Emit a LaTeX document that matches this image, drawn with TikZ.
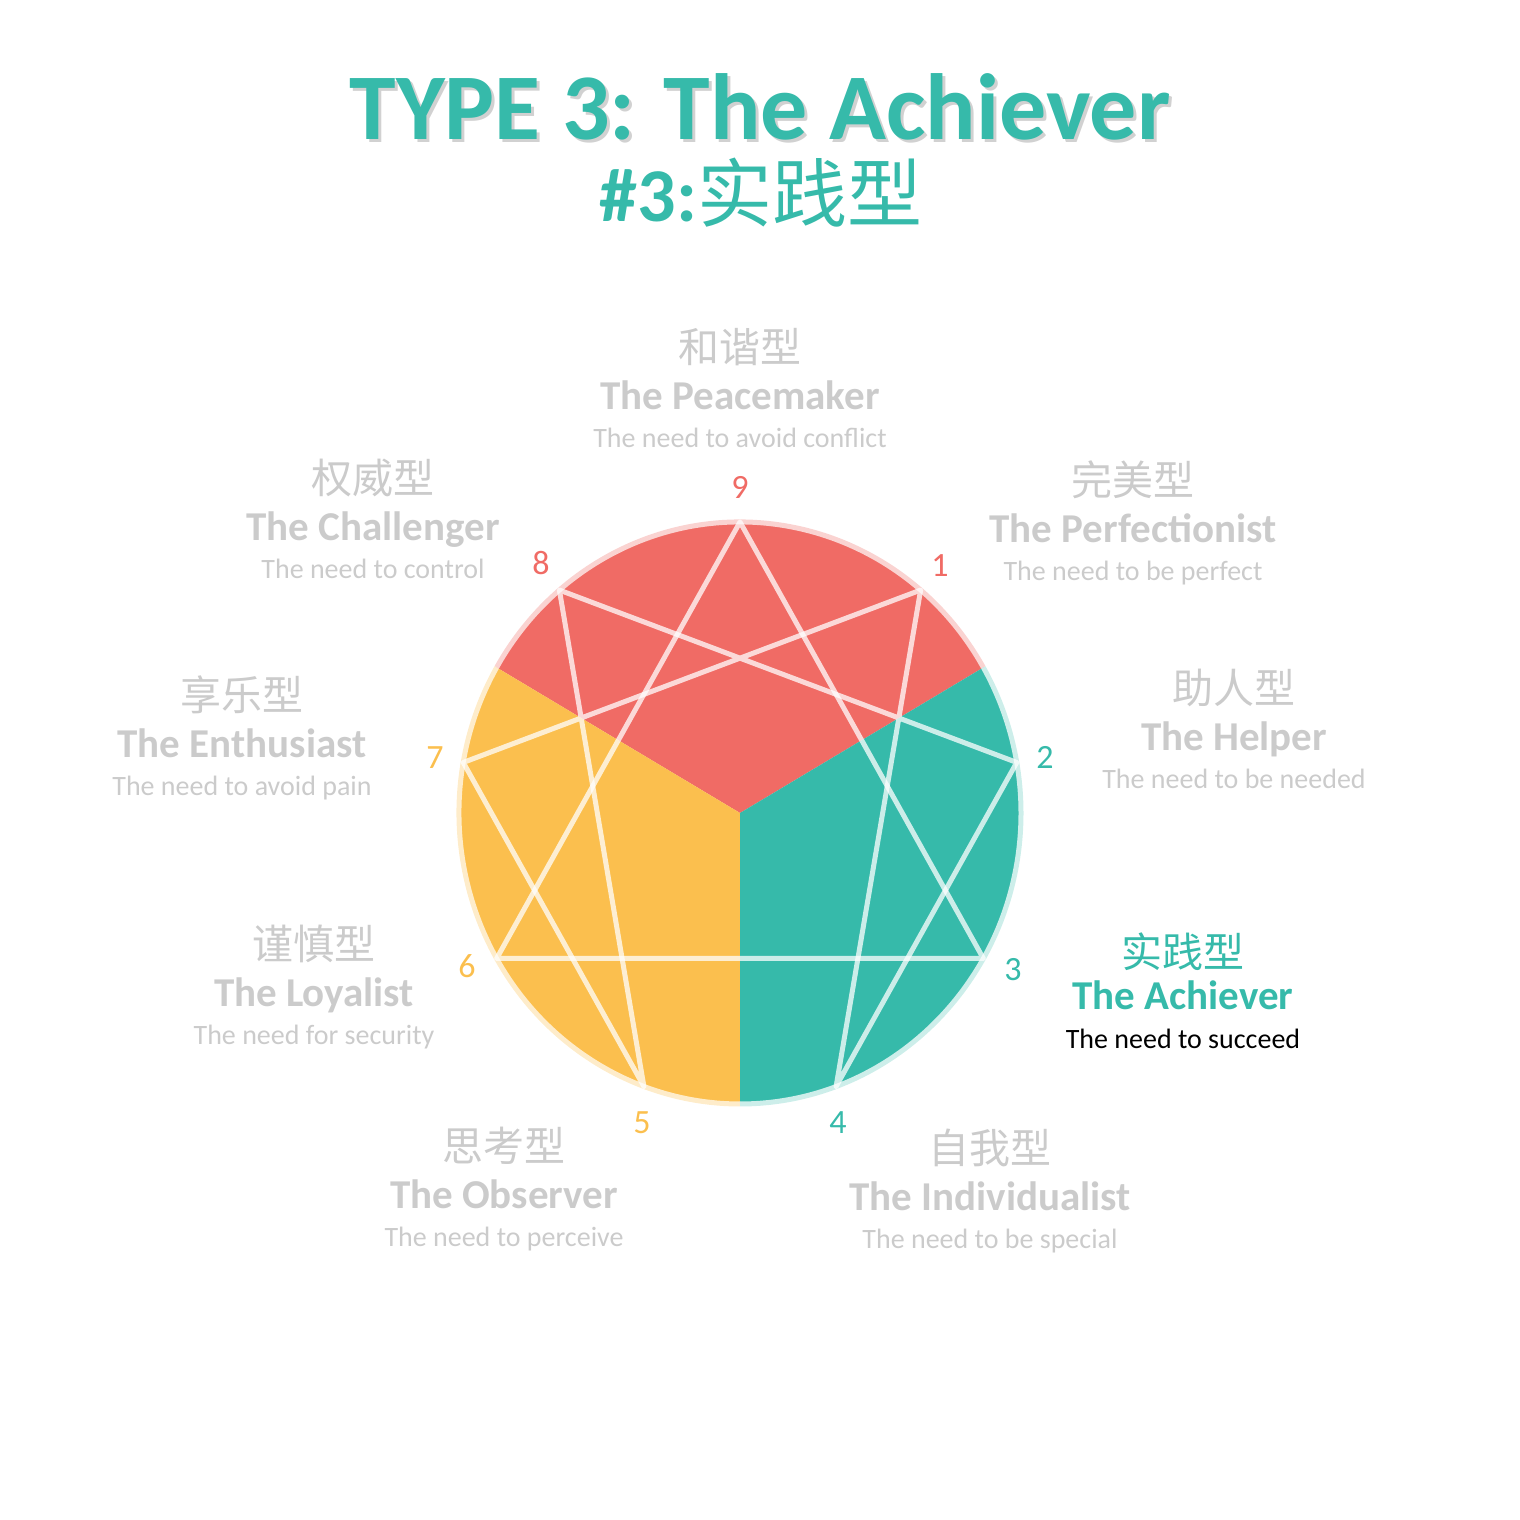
\documentclass[tikz,border=0pt]{standalone}
\usepackage{fontspec}
\setmainfont{Carlito}
\newfontfamily\cjk{Noto Sans CJK SC}
\definecolor{achteal}{HTML}{36BAAA}
\definecolor{achred}{HTML}{F06B65}
\definecolor{achyellow}{HTML}{FBBF4E}
\definecolor{labelgray}{HTML}{CBCBCB}

\begin{document}
\begin{tikzpicture}[
  x=1pt, y=1pt,
  cname/.style={font=\cjk\fontsize{41}{41}\selectfont, text=labelgray, anchor=base, inner sep=0pt},
  ename/.style={font=\bfseries\fontsize{41}{41}\selectfont, text=labelgray, anchor=base, inner sep=0pt},
  dname/.style={font=\fontsize{28}{28}\selectfont, text=labelgray, anchor=base, inner sep=0pt},
  num/.style={font=\fontsize{34}{34}\selectfont, inner sep=0pt},
  ennealine/.style={draw=white, draw opacity=0.75, line width=5pt, line join=round, line cap=round},
  rim/.style={line width=5pt},
]
  \useasboundingbox (0,0) rectangle (1520,1520);

  % title
  \node[font=\bfseries\fontsize{94}{94}\selectfont, text=black, opacity=0.18, anchor=base, inner sep=0pt] at (763,1377) {TYPE 3: The Achiever};
  \node[font=\bfseries\fontsize{94}{94}\selectfont, text=achteal, anchor=base, inner sep=0pt] (title) at (760,1380) {TYPE 3: The Achiever};
  \node[font=\bfseries\fontsize{76}{76}\selectfont, text=achteal, anchor=base, inner sep=0pt] (subtitle) at (761,1298) {\#3:{\cjk\mdseries\fontsize{75}{75}\selectfont 实践型}};

  % circle and sectors
  \begin{scope}[shift={(740,707)}]
    \coordinate (ctr) at (0,0);
    \foreach \k in {1,...,9}
      \coordinate (p\k) at ({90-40*\k}:281pt and 291pt);
    \fill[achred] (ctr) -- (30:281pt and 291pt) arc[start angle=30, end angle=150, x radius=281pt, y radius=291pt] -- cycle;
    \fill[achyellow] (ctr) -- (150:281pt and 291pt) arc[start angle=150, end angle=270, x radius=281pt, y radius=291pt] -- cycle;
    \fill[achteal] (ctr) -- (270:281pt and 291pt) arc[start angle=270, end angle=390, x radius=281pt, y radius=291pt] -- cycle;
    \draw[rim, achred!30] (30:281pt and 291pt) arc[start angle=30, end angle=150, x radius=281pt, y radius=291pt];
    \draw[rim, achyellow!30] (150:281pt and 291pt) arc[start angle=150, end angle=270, x radius=281pt, y radius=291pt];
    \draw[rim, achteal!25] (270:281pt and 291pt) arc[start angle=270, end angle=390, x radius=281pt, y radius=291pt];
  \end{scope}

  \draw[ennealine] (p9) -- (p3) -- (p6) -- cycle;
  \draw[ennealine] (p1) -- (p4) -- (p2) -- (p8) -- (p5) -- (p7) -- cycle;

  % point numbers
  \foreach \k/\x/\y/\c in {9/740/1033/achred, 1/940/954/achred, 2/1045/763/achteal,
      3/1013/550/achteal, 4/838/397/achteal, 5/642/397/achyellow,
      6/467/554/achyellow, 7/435/762/achyellow, 8/541/957/achred}
    \node[num, text=\c] (n\k) at (\x,\y) {\k};

  % type labels
  \foreach \k/\x/\E/\cn/\en/\ds in {
      9/740/1123/和谐型/The Peacemaker/The need to avoid conflict,
      8/373/992/权威型/The Challenger/The need to control,
      1/1133/990/完美型/The Perfectionist/The need to be perfect,
      7/242/775/享乐型/The Enthusiast/The need to avoid pain,
      2/1234/782/助人型/The Helper/The need to be needed,
      6/314/526/谨慎型/The Loyalist/The need for security,
      5/504/324/思考型/The Observer/The need to perceive,
      4/990/322/自我型/The Individualist/The need to be special}
  {
    \node[cname] (cn\k) at (\x,\E+34) {\cn};
    \node[ename] (en\k) at (\x,\E-13) {\en};
    \node[dname] (ds\k) at (\x,\E-51) {\ds};
  }
  \node[cname, text=achteal] (cn3) at (1183,552) {实践型};
  \node[ename, text=achteal] (en3) at (1183,510) {The Achiever};
  \node[dname, text=black] (ds3) at (1183,471) {The need to succeed};
\end{tikzpicture}
\end{document}
